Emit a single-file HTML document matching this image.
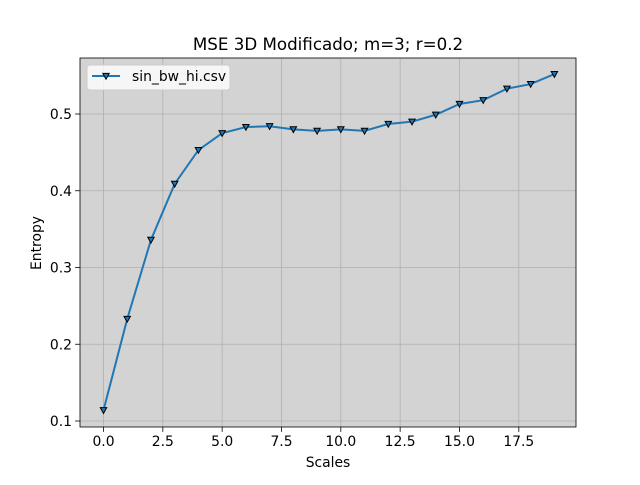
<!DOCTYPE html>
<html><head><meta charset="utf-8"><style>
body{margin:0;background:#fff;font-family:"Liberation Sans","DejaVu Sans",sans-serif}
svg text{font-family:"DejaVu Sans","Liberation Sans",sans-serif}
</style></head><body>
<svg id="chart" width="640" height="480">
<rect width="640" height="480" fill="#fff"/>
<g id="plot"></g>
</svg>
<script>
const scales=[0,1,2,3,4,5,6,7,8,9,10,11,12,13,14,15,16,17,18,19];
const entropy=[0.114,0.233,0.336,0.409,0.453,0.475,0.483,0.484,0.480,0.478,0.480,0.478,0.487,0.490,0.499,0.513,0.518,0.533,0.539,0.552];
const xTicks=[0,2.5,5,7.5,10,12.5,15,17.5];
const xTickLabels=["0.0","2.5","5.0","7.5","10.0","12.5","15.0","17.5"];
const yTicks=[0.1,0.2,0.3,0.4,0.5];
const yTickLabels=["0.1","0.2","0.3","0.4","0.5"];
const L=80,R=576,T=58,B=427;
const x=v=>103.5+v*(R-L)/20.9;
const y=v=>421-(v-0.1)*767.5;
const ns="http://www.w3.org/2000/svg";
const g=document.getElementById('plot');
function mk(t,a,txt){const e=document.createElementNS(ns,t);for(const k in a)e.setAttribute(k,a[k]);if(txt!=null)e.textContent=txt;g.appendChild(e);return e;}
let e=mk('rect',{x:L,y:T,width:R-L,height:B-T,fill:'#d3d3d3'});


xTicks.forEach((t,i)=>{
 let gl=mk('line',{x1:x(t),x2:x(t),y1:T,y2:B,stroke:'#b0b0b0','stroke-width':0.8});
 
 
 mk('line',{x1:x(t),x2:x(t),y1:B,y2:B+4.9,stroke:'#000','stroke-width':0.8});
 let tl=mk('text',{x:x(t),y:B+19,'font-size':13.9,'text-anchor':'middle'},xTickLabels[i]);
 
 
});
yTicks.forEach((t,i)=>{
 let gl=mk('line',{x1:L,x2:R,y1:y(t),y2:y(t),stroke:'#b0b0b0','stroke-width':0.8});
 
 
 mk('line',{x1:L-4.9,x2:L,y1:y(t),y2:y(t),stroke:'#000','stroke-width':0.8});
 let tl=mk('text',{x:L-8,y:y(t)+5,'font-size':13.9,'text-anchor':'end'},yTickLabels[i]);
 
 
});
let line=mk('polyline',{points:scales.map((s,i)=>x(s)+','+y(entropy[i])).join(' '),fill:'none',stroke:'#1f77b4','stroke-width':2});


function tri(cx,cy){return `${cx-3.2},${cy-2.6} ${cx+3.2},${cy-2.6} ${cx},${cy+3.2}`;}
scales.forEach((s,i)=>{
 let m=mk('polygon',{points:tri(x(s),y(entropy[i])),fill:'#1f77b4',stroke:'#000','stroke-width':1});
 
 
});
e=mk('rect',{x:L,y:T,width:R-L,height:B-T,fill:'none',stroke:'#000','stroke-width':0.8});


e=mk('text',{x:328,y:50,'font-size':16.7,'text-anchor':'middle'},'MSE 3D Modificado; m=3; r=0.2');


e=mk('text',{x:328,y:467,'font-size':13.9,'text-anchor':'middle'},'Scales');


e=mk('text',{x:41,y:243,'font-size':13.9,'text-anchor':'middle',transform:'rotate(-90 41 243)'},'Entropy');


e=mk('rect',{x:87,y:65,width:143,height:25,rx:3,fill:'#fff','fill-opacity':0.8,stroke:'#ccc'});


mk('line',{x1:92,x2:120,y1:76,y2:76,stroke:'#1f77b4','stroke-width':2});
mk('polygon',{points:tri(106,76),fill:'#1f77b4',stroke:'#000','stroke-width':1});
e=mk('text',{x:132,y:81,'font-size':13.9},'sin_bw_hi.csv');


</script>
</body></html>
